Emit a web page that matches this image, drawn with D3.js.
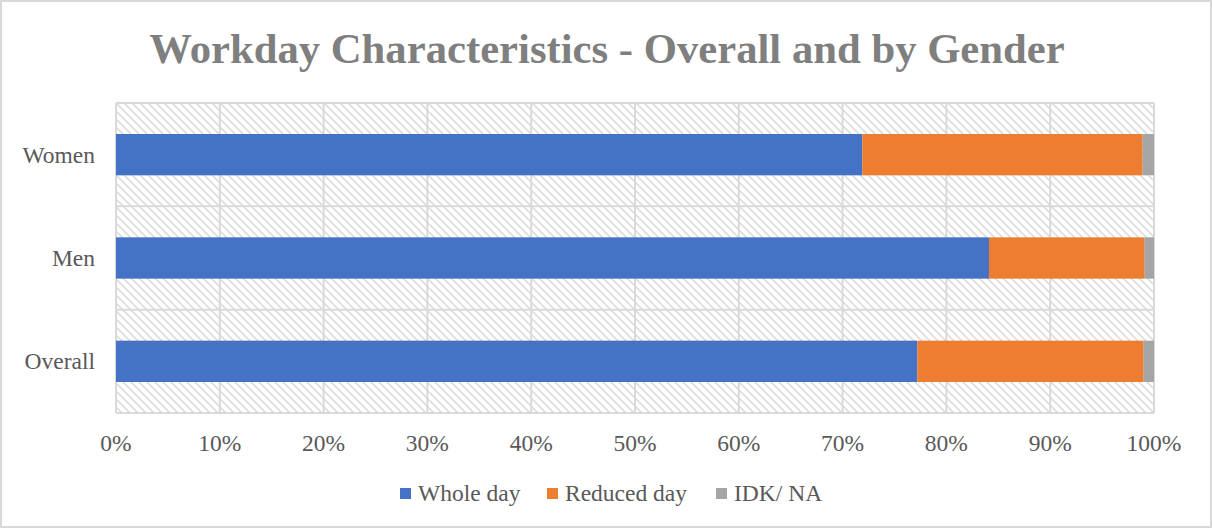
<!DOCTYPE html>
<html>
<head>
<meta charset="utf-8">
<script src="https://cdn.jsdelivr.net/npm/d3@7"></script>
<style>
  body { margin: 0; background: #fff; }
  svg text { font-family: "Liberation Serif", "Times New Roman", serif; }
</style>
</head>
<body>
<div id="chart"></div>
<script>
// Workday characteristics - stacked 100% horizontal bars

const categories = ["Women", "Men", "Overall"];
const seriesNames = ["Whole day", "Reduced day", "IDK/ NA"];
const wholeDay = [71.9, 84.1, 77.2];
const reducedDay = [27.0, 15.0, 21.8];
const idkNa = [1.1, 0.9, 1.0];
const xTicks = [0, 10, 20, 30, 40, 50, 60, 70, 80, 90, 100];

const colors = ["#4472C4", "#ED7D31", "#A5A5A5"];

const W = 1212, H = 528;
const margin = { top: 103, right: 58, bottom: 115, left: 116 };
const width = W - margin.left - margin.right,
      height = H - margin.top - margin.bottom;

const svg = d3.select("#chart").append("svg")
    .attr("width", W).attr("height", H);

// chart border
svg.append("rect")
    .attr("x", 1).attr("y", 1).attr("width", W - 2).attr("height", H - 2)
    .attr("fill", "#fff").attr("stroke", "#d9d9d9").attr("stroke-width", 2);

// hatch pattern for plot background
const defs = svg.append("defs");
const pat = defs.append("pattern")
    .attr("id", "hatch")
    .attr("patternUnits", "userSpaceOnUse")
    .attr("width", 8).attr("height", 8);
pat.append("path")
    .attr("d", "M-2,2 l4,-4 M0,8 l8,-8 M6,10 l4,-4")
    .attr("stroke", "#dcdcdc").attr("stroke-width", 1.6)
    .attr("transform", "scale(-1,1) translate(-8,0)");

// Title
svg.append("text")
    .attr("x", W / 2 + 1).attr("y", 63)
    .attr("text-anchor", "middle")
    .attr("font-size", 42.7).attr("font-weight", "bold")
    .attr("fill", "#7f7f7f")
    .text("Workday Characteristics - Overall and by Gender");

const g = svg.append("g").attr("transform", `translate(${margin.left},${margin.top})`);

const x = d3.scaleLinear().domain([0, 100]).range([0, width]);
const y = d3.scaleBand().domain(categories).range([0, height]).paddingInner(0).paddingOuter(0);

g.append("rect").attr("width", width).attr("height", height).attr("fill", "url(#hatch)");

// vertical grid
g.append("g").selectAll("line").data(xTicks).join("line")
    .attr("x1", d => x(d)).attr("x2", d => x(d))
    .attr("y1", 0).attr("y2", height)
    .attr("stroke", "#d9d9d9").attr("stroke-width", 2);

// horizontal band borders
g.append("g").selectAll("line").data(d3.range(categories.length + 1)).join("line")
    .attr("x1", 0).attr("x2", width)
    .attr("y1", i => i * y.step()).attr("y2", i => i * y.step())
    .attr("stroke", "#d9d9d9").attr("stroke-width", 2);

// stacked data
const rows = categories.map((c, i) => ({
    cat: c, "Whole day": wholeDay[i], "Reduced day": reducedDay[i], "IDK/ NA": idkNa[i]
}));
const stack = d3.stack().keys(seriesNames)(rows);

const barH = y.bandwidth() * 0.4;
g.selectAll("g.layer").data(stack).join("g")
    .attr("class", "layer")
    .attr("fill", (d, i) => colors[i])
    .selectAll("rect").data(d => d).join("rect")
    .attr("x", d => x(d[0]))
    .attr("width", d => x(d[1]) - x(d[0]))
    .attr("y", d => y(d.data.cat) + (y.bandwidth() - barH) / 2)
    .attr("height", barH);

// axes labels
g.append("g").selectAll("text").data(xTicks).join("text")
    .attr("x", d => x(d)).attr("y", height + 38)
    .attr("text-anchor", "middle")
    .attr("font-size", 23.5).attr("fill", "#595959")
    .text(d => d + "%");

g.append("g").selectAll("text").data(categories).join("text")
    .attr("x", -21).attr("y", d => y(d) + y.bandwidth() / 2 + 8)
    .attr("text-anchor", "end")
    .attr("font-size", 23.5).attr("fill", "#595959")
    .text(d => d);

// Legend
const legendX = [400, 547, 716];
const legend = svg.append("g");
seriesNames.forEach((s, i) => {
    const lg = legend.append("g").attr("transform", `translate(${legendX[i]},488)`);
    lg.append("rect").attr("width", 11).attr("height", 11).attr("fill", colors[i]);
    lg.append("text").attr("x", 18).attr("y", 13)
        .attr("font-size", 23.5).attr("fill", "#595959").text(s);
});
</script>
</body>
</html>
